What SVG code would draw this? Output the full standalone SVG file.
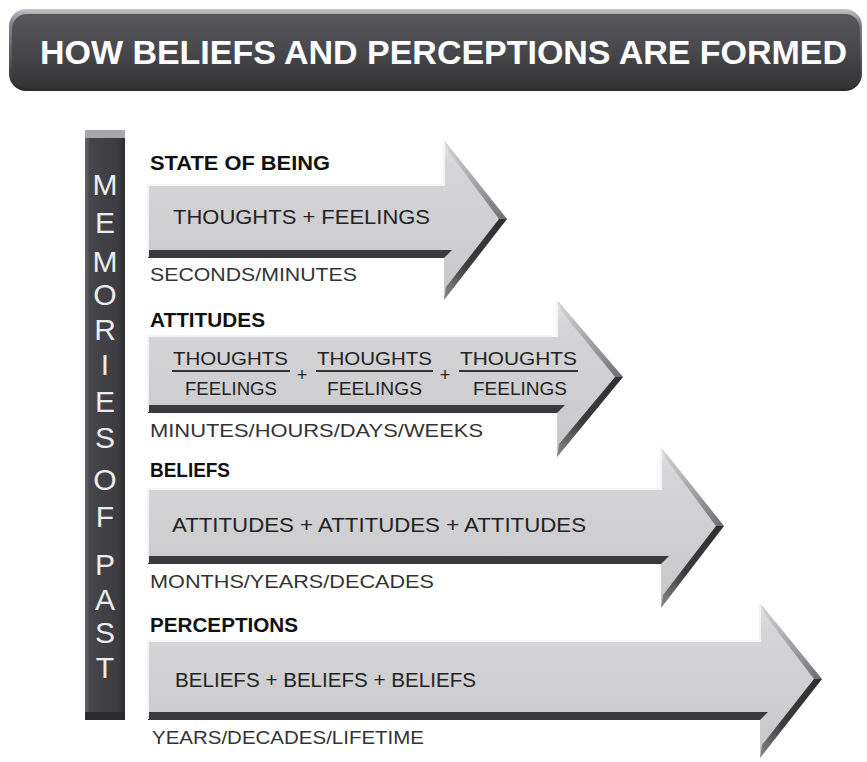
<svg xmlns="http://www.w3.org/2000/svg" width="867" height="762" viewBox="0 0 867 762">
<defs>
<linearGradient id="titleG" x1="0" y1="0" x2="0" y2="1">
<stop offset="0" stop-color="#58585c"/>
<stop offset="0.5" stop-color="#48484c"/>
<stop offset="1" stop-color="#343436"/>
</linearGradient>
<linearGradient id="titleRim" x1="0" y1="0" x2="0" y2="1">
<stop offset="0" stop-color="#c4c4c8"/>
<stop offset="0.15" stop-color="#8a8a8e"/>
<stop offset="1" stop-color="#2a2a2c"/>
</linearGradient>
<linearGradient id="barG" x1="0" y1="0" x2="1" y2="0">
<stop offset="0" stop-color="#6a6a6e"/>
<stop offset="0.12" stop-color="#46464a"/>
<stop offset="0.85" stop-color="#3c3c40"/>
<stop offset="1" stop-color="#2a2a2c"/>
</linearGradient>
<linearGradient id="bodyG" x1="0" y1="0" x2="0" y2="1">
<stop offset="0" stop-color="#e4e4e6"/>
<stop offset="0.15" stop-color="#d6d6d8"/>
<stop offset="1" stop-color="#c8c8ca"/>
</linearGradient>
<linearGradient id="upperBev" x1="0" y1="0" x2="1" y2="1">
<stop offset="0" stop-color="#d8d8da"/>
<stop offset="0.6" stop-color="#9c9ca0"/>
<stop offset="1" stop-color="#6c6c70"/>
</linearGradient>
<linearGradient id="lowerBev" x1="1" y1="0" x2="0" y2="1">
<stop offset="0" stop-color="#2e2e30"/>
<stop offset="0.6" stop-color="#3c3c3e"/>
<stop offset="1" stop-color="#8a8a8e"/>
</linearGradient>
</defs>
<style>
.body{fill:url(#bodyG)}
.strip{fill:#3a3a3c}
.ub{fill:url(#upperBev)}
.lb{fill:url(#lowerBev)}
.hl{stroke:#f4f4f6;stroke-width:2;fill:none}
.head{font-family:"Liberation Sans",Arial,sans-serif;font-weight:bold;font-size:20px;fill:#111}
.inner{font-family:"Liberation Sans",Arial,sans-serif;font-size:21px;fill:#222}
.frac{font-family:"Liberation Sans",Arial,sans-serif;font-size:18px;fill:#222}
.time{font-family:"Liberation Sans",Arial,sans-serif;font-size:19px;fill:#333}
.vl{font-family:"Liberation Sans",Arial,sans-serif;font-size:30px;fill:#ececec;text-anchor:middle}
.fl{stroke:#333;stroke-width:2}
</style>
<rect width="867" height="762" fill="#ffffff"/>

<g id="title">
<rect x="9" y="9" width="853" height="82" rx="17" fill="url(#titleRim)"/>
<rect x="12" y="14" width="848" height="74" rx="15" fill="url(#titleG)"/>
<text x="40" y="64" font-family="'Liberation Sans',Arial,sans-serif" font-weight="bold" font-size="33" fill="#ffffff" textLength="807" lengthAdjust="spacingAndGlyphs">HOW BELIEFS AND PERCEPTIONS ARE FORMED</text>
</g>

<g id="memories-bar">
<rect x="85" y="130" width="40" height="590" fill="url(#barG)"/>
<rect x="85" y="130" width="40" height="8" fill="#a8a8ac"/>
<rect x="85" y="712" width="40" height="8" fill="#2a2a2c"/>
<text class="vl" x="105" y="195">M</text>
<text class="vl" x="105" y="233">E</text>
<text class="vl" x="105" y="272">M</text>
<text class="vl" x="105" y="305">O</text>
<text class="vl" x="105" y="340">R</text>
<text class="vl" x="105" y="375">I</text>
<text class="vl" x="105" y="412">E</text>
<text class="vl" x="105" y="448">S</text>
<text class="vl" x="105" y="490">O</text>
<text class="vl" x="105" y="527">F</text>
<text class="vl" x="105" y="575">P</text>
<text class="vl" x="105" y="610">A</text>
<text class="vl" x="105" y="643">S</text>
<text class="vl" x="105" y="678">T</text>
</g>

<g id="connectors"></g>

<g id="state-of-being">
<polygon class="body" points="148,184 444,184 444,140 507,219 444,300 444,258 148,258"/>
<polygon class="strip" points="148,250 452,250 444,258 148,258"/>
<polygon class="ub" points="444,140 507,219 499,219 449,152"/>
<polygon class="lb" points="507,219 444,300 446,287 499,219"/>
<polyline class="hl" points="148,257 148,185 444,185 444,141"/>
<text class="head" x="150" y="170" textLength="180" lengthAdjust="spacingAndGlyphs">STATE OF BEING</text>
<text class="inner" x="173" y="224" textLength="257" lengthAdjust="spacingAndGlyphs">THOUGHTS + FEELINGS</text>
<text class="time" x="150" y="281" textLength="207" lengthAdjust="spacingAndGlyphs">SECONDS/MINUTES</text>
</g>

<g id="attitudes">
<polygon class="body" points="148,335 557,335 557,300 623,377 557,457 557,413 148,413"/>
<polygon class="strip" points="148,405 565,405 557,413 148,413"/>
<polygon class="ub" points="557,300 623,377 615,377 562,312"/>
<polygon class="lb" points="623,377 557,457 559,444 615,377"/>
<polyline class="hl" points="148,412 148,336 557,336 557,301"/>
<text class="head" x="150" y="327" textLength="115" lengthAdjust="spacingAndGlyphs">ATTITUDES</text>
<text class="frac" x="173" y="365" textLength="115" lengthAdjust="spacingAndGlyphs">THOUGHTS</text>
<line class="fl" x1="172" y1="371" x2="290" y2="371"/>
<text class="frac" x="185" y="395" textLength="92" lengthAdjust="spacingAndGlyphs">FEELINGS</text>
<text class="frac" x="302" y="381" font-size="15" text-anchor="middle">+</text>
<text class="frac" x="317" y="365" textLength="115" lengthAdjust="spacingAndGlyphs">THOUGHTS</text>
<line class="fl" x1="316" y1="371" x2="433" y2="371"/>
<text class="frac" x="327" y="395" textLength="95" lengthAdjust="spacingAndGlyphs">FEELINGS</text>
<text class="frac" x="445" y="381" font-size="15" text-anchor="middle">+</text>
<text class="frac" x="460" y="365" textLength="117" lengthAdjust="spacingAndGlyphs">THOUGHTS</text>
<line class="fl" x1="459" y1="371" x2="578" y2="371"/>
<text class="frac" x="473" y="395" textLength="94" lengthAdjust="spacingAndGlyphs">FEELINGS</text>
<text class="time" x="150" y="437" textLength="333" lengthAdjust="spacingAndGlyphs">MINUTES/HOURS/DAYS/WEEKS</text>
</g>

<g id="beliefs">
<polygon class="body" points="148,488 661,488 661,447 724,526 661,608 661,564 148,564"/>
<polygon class="strip" points="148,556 669,556 661,564 148,564"/>
<polygon class="ub" points="661,447 724,526 716,526 666,459"/>
<polygon class="lb" points="724,526 661,608 663,595 716,526"/>
<polyline class="hl" points="148,563 148,489 661,489 661,448"/>
<text class="head" x="150" y="477" textLength="80" lengthAdjust="spacingAndGlyphs">BELIEFS</text>
<text class="inner" x="172" y="532" textLength="414" lengthAdjust="spacingAndGlyphs">ATTITUDES + ATTITUDES + ATTITUDES</text>
<text class="time" x="150" y="588" textLength="284" lengthAdjust="spacingAndGlyphs">MONTHS/YEARS/DECADES</text>
</g>

<g id="perceptions">
<polygon class="body" points="148,640 760,640 760,603 822,679 760,758 760,720 148,720"/>
<polygon class="strip" points="148,712 768,712 760,720 148,720"/>
<polygon class="ub" points="760,603 822,679 814,679 765,615"/>
<polygon class="lb" points="822,679 760,758 762,745 814,679"/>
<polyline class="hl" points="148,719 148,641 760,641 760,604"/>
<text class="head" x="150" y="632" textLength="148" lengthAdjust="spacingAndGlyphs">PERCEPTIONS</text>
<text class="inner" x="175" y="687" textLength="301" lengthAdjust="spacingAndGlyphs">BELIEFS + BELIEFS + BELIEFS</text>
<text class="time" x="152" y="744" textLength="272" lengthAdjust="spacingAndGlyphs">YEARS/DECADES/LIFETIME</text>
</g>
</svg>
